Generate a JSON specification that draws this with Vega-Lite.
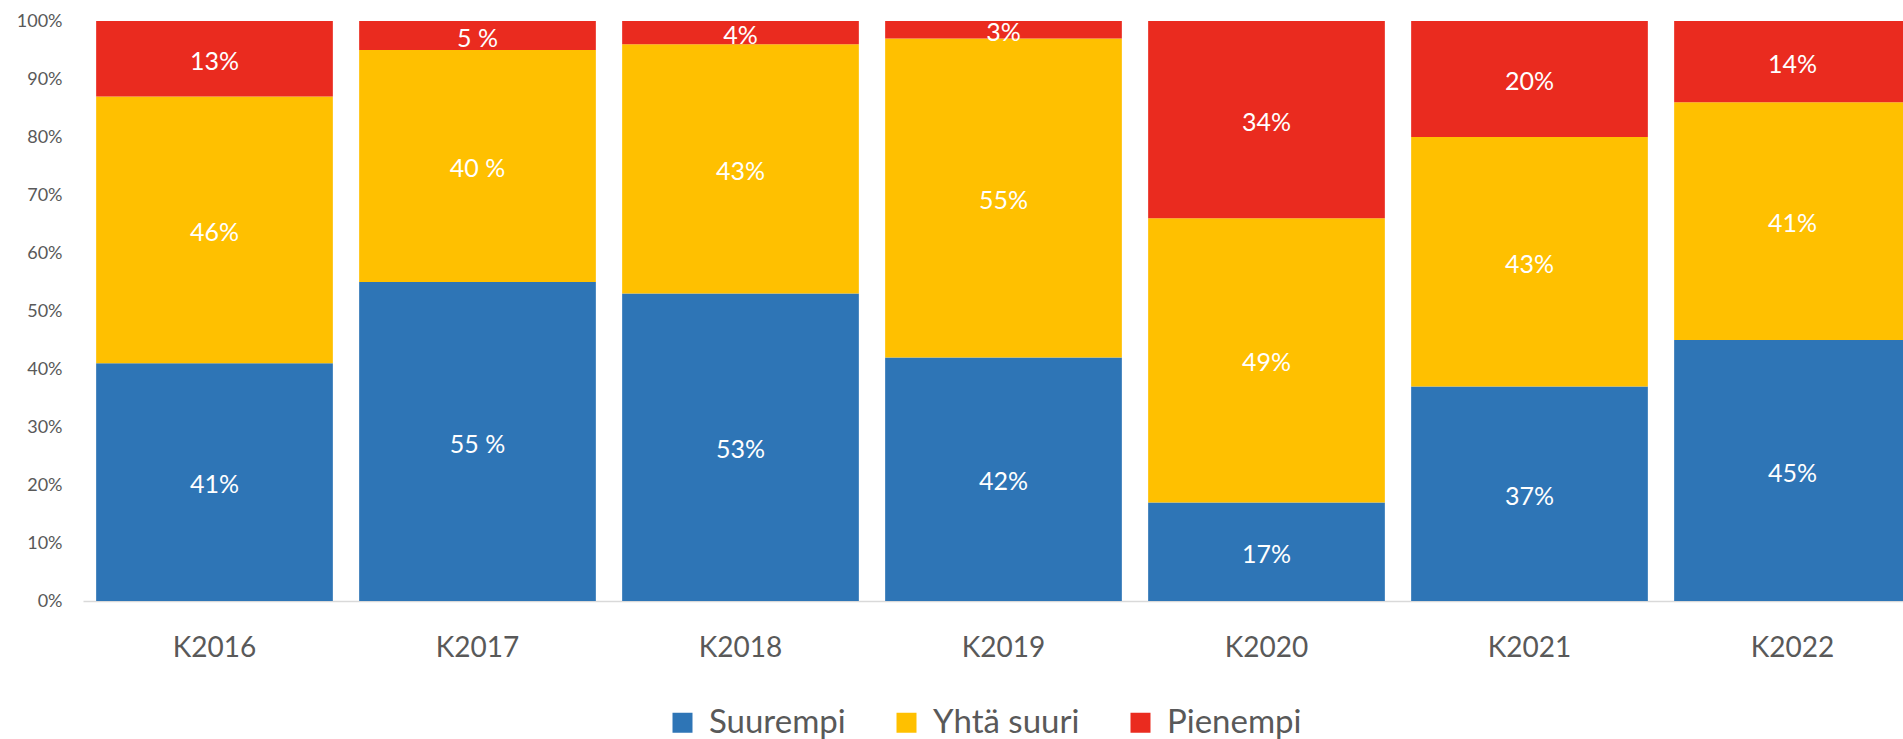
{
  "$schema": "https://vega.github.io/schema/vega-lite/v6.json",
  "width": 1820,
  "height": 580,
  "autosize": {"type": "none"},
  "padding": {"left": 83, "top": 21, "right": 0, "bottom": 138},
  "background": "white",
  "config": {"view": {"stroke": null}, "font": "Lato"},
  "data": {
    "values": [
      {"year": "K2016", "cat": "Suurempi", "k": 1, "value": 41, "label": "41%"},
      {"year": "K2016", "cat": "Yhtä suuri", "k": 2, "value": 46, "label": "46%"},
      {"year": "K2016", "cat": "Pienempi", "k": 3, "value": 13, "label": "13%"},
      {"year": "K2017", "cat": "Suurempi", "k": 1, "value": 55, "label": "55 %"},
      {"year": "K2017", "cat": "Yhtä suuri", "k": 2, "value": 40, "label": "40 %"},
      {"year": "K2017", "cat": "Pienempi", "k": 3, "value": 5, "label": "5 %"},
      {"year": "K2018", "cat": "Suurempi", "k": 1, "value": 53, "label": "53%"},
      {"year": "K2018", "cat": "Yhtä suuri", "k": 2, "value": 43, "label": "43%"},
      {"year": "K2018", "cat": "Pienempi", "k": 3, "value": 4, "label": "4%"},
      {"year": "K2019", "cat": "Suurempi", "k": 1, "value": 42, "label": "42%"},
      {"year": "K2019", "cat": "Yhtä suuri", "k": 2, "value": 55, "label": "55%"},
      {"year": "K2019", "cat": "Pienempi", "k": 3, "value": 3, "label": "3%"},
      {"year": "K2020", "cat": "Suurempi", "k": 1, "value": 17, "label": "17%"},
      {"year": "K2020", "cat": "Yhtä suuri", "k": 2, "value": 49, "label": "49%"},
      {"year": "K2020", "cat": "Pienempi", "k": 3, "value": 34, "label": "34%"},
      {"year": "K2021", "cat": "Suurempi", "k": 1, "value": 37, "label": "37%"},
      {"year": "K2021", "cat": "Yhtä suuri", "k": 2, "value": 43, "label": "43%"},
      {"year": "K2021", "cat": "Pienempi", "k": 3, "value": 20, "label": "20%"},
      {"year": "K2022", "cat": "Suurempi", "k": 1, "value": 45, "label": "45%"},
      {"year": "K2022", "cat": "Yhtä suuri", "k": 2, "value": 41, "label": "41%"},
      {"year": "K2022", "cat": "Pienempi", "k": 3, "value": 14, "label": "14%"}
    ]
  },
  "transform": [
    {"stack": "value", "groupby": ["year"], "sort": [{"field": "k", "order": "ascending"}], "as": ["y0", "y1"]},
    {"calculate": "(datum.y0 + datum.y1) / 2", "as": "mid"}
  ],
  "encoding": {
    "x": {
      "field": "year",
      "type": "nominal",
      "scale": {"range": [0, 1841], "paddingInner": 0.1, "paddingOuter": 0.05},
      "axis": {
        "title": null,
        "labelAngle": 0,
        "labelFontSize": 28,
        "labelColor": "#595959",
        "labelPadding": 33,
        "ticks": false,
        "domainColor": "#D9D9D9",
        "domainWidth": 1.5,
        "grid": false
      }
    }
  },
  "layer": [
    {
      "mark": {"type": "bar"},
      "encoding": {
        "y": {
          "field": "y0",
          "type": "quantitative",
          "scale": {"domain": [0, 100], "nice": false},
          "axis": {
            "title": null,
            "values": [0, 10, 20, 30, 40, 50, 60, 70, 80, 90, 100],
            "labelExpr": "datum.value + '%'",
            "labelFontSize": 18,
            "labelColor": "#595959",
            "labelPadding": 21,
            "ticks": false,
            "domain": false,
            "grid": false
          }
        },
        "y2": {"field": "y1"},
        "color": {
          "field": "cat",
          "type": "nominal",
          "sort": ["Suurempi", "Yhtä suuri", "Pienempi"],
          "scale": {"domain": ["Suurempi", "Yhtä suuri", "Pienempi"], "range": ["#2E75B6", "#FFC000", "#EA2B1F"]},
          "legend": {
            "title": null,
            "orient": "none",
            "direction": "horizontal",
            "legendX": 583,
            "legendY": 685,
            "symbolType": "square",
            "symbolSize": 400,
            "symbolStrokeWidth": 0,
            "symbolOpacity": 1,
            "labelFontSize": 33,
            "labelColor": "#595959",
            "labelOffset": 10,
            "columnPadding": 44
          }
        }
      }
    },
    {
      "mark": {"type": "text", "color": "white", "fontSize": 25, "baseline": "middle", "dy": 3},
      "encoding": {
        "y": {"field": "mid", "type": "quantitative"},
        "text": {"field": "label"}
      }
    }
  ]
}
